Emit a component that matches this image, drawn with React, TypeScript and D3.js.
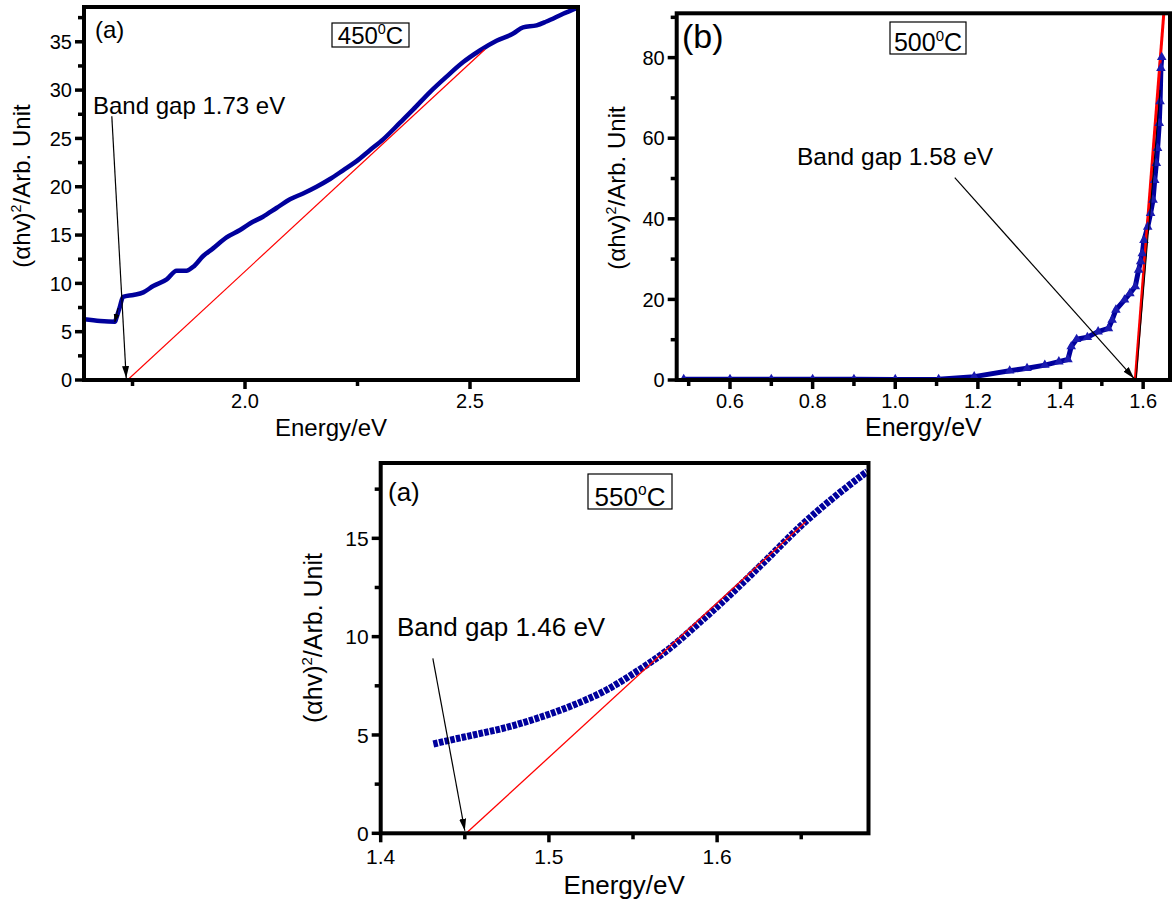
import React from 'react';
import * as d3 from 'd3';

// ---------- Panel 1 (450 °C) ----------
const p1Energy = [1.642, 1.678, 1.711, 1.714, 1.722, 1.729, 1.752, 1.774, 1.796, 1.826, 1.848, 1.870, 1.885, 1.907, 1.929, 1.959, 1.989, 2.011, 2.040, 2.070, 2.100, 2.129, 2.159, 2.189, 2.218, 2.248, 2.278, 2.307, 2.344, 2.374, 2.411, 2.448, 2.485, 2.522, 2.559, 2.596, 2.618, 2.648, 2.670, 2.707, 2.740];
const p1Value = [6.28, 6.1, 6.03, 6.4, 7.6, 8.6, 8.8, 9.07, 9.72, 10.41, 11.31, 11.31, 11.72, 12.83, 13.62, 14.76, 15.52, 16.2, 16.9, 17.8, 18.7, 19.3, 20.0, 20.8, 21.7, 22.65, 23.8, 24.9, 26.6, 28.0, 29.8, 31.4, 32.9, 34.1, 35.1, 35.85, 36.5, 36.7, 37.1, 37.9, 38.55];
const p1FitE = [1.739, 2.533];
const p1FitV = [0, 34.2];
const p1ArrowE = [1.704, 1.736];
const p1ArrowV = [27.3, 0.2];
const p1SmallArrowE = [1.718, 1.7107];
const p1SmallArrowV = [7.45, 6.0];
const p1XTicks = [2.0, 2.5];
const p1XMinor = [1.75, 2.25];
const p1YTicks = [0, 5, 10, 15, 20, 25, 30, 35];
const p1YMinor = [2.5, 7.5, 12.5, 17.5, 22.5, 27.5, 32.5, 37.5];

// ---------- Panel 2 (500 °C) ----------
const p2Energy = [0.488, 0.6, 0.7, 0.8, 0.9, 1.0, 1.105, 1.191, 1.277, 1.319, 1.362, 1.396, 1.418, 1.426, 1.439, 1.465, 1.491, 1.516, 1.525, 1.534, 1.555, 1.568, 1.581, 1.589, 1.594, 1.598, 1.602, 1.611, 1.618, 1.624, 1.628, 1.632, 1.635, 1.639, 1.641, 1.643, 1.645];
const p2Value = [0.2, 0.2, 0.2, 0.2, 0.2, 0.15, 0.2, 0.83, 2.3, 2.9, 3.7, 4.55, 5.1, 8.3, 10.1, 10.6, 12.0, 12.8, 14.9, 17.4, 19.9, 21.5, 23.2, 27.3, 29.4, 31.4, 34.7, 38.0, 41.4, 44.7, 49.6, 53.8, 57.5, 63.7, 69.1, 77.4, 80.1];
const p2FitE = [1.581, 1.650];
const p2FitV = [0, 91];
const p2BlackE = [1.583, 1.641];
const p2BlackV = [0, 72];
const p2ArrowE = [1.144, 1.578];
const p2ArrowV = [50.2, 0.4];
const p2XTicks = [0.6, 0.8, 1.0, 1.2, 1.4, 1.6];
const p2XMinor = [0.5, 0.7, 0.9, 1.1, 1.3, 1.5];
const p2YTicks = [0, 20, 40, 60, 80];
const p2YMinor = [10, 30, 50, 70, 90];

// ---------- Panel 3 (550 °C) ----------
const p3Energy = [1.4313, 1.4413, 1.4551, 1.475, 1.4948, 1.5146, 1.5345, 1.5504, 1.5702, 1.59, 1.6099, 1.6298, 1.6496, 1.6694, 1.6893];
const p3Value = [4.54, 4.74, 5.0, 5.39, 5.9, 6.52, 7.3, 8.13, 9.3, 10.75, 12.3, 13.95, 15.62, 17.08, 18.4];
const p3FitE = [1.4508, 1.6526];
const p3FitV = [0, 15.84];
const p3ArrowE = [1.431, 1.450];
const p3ArrowV = [8.9, 0.13];
const p3XTicks = [1.4, 1.5, 1.6];
const p3XMinor = [1.45, 1.55, 1.65];
const p3YTicks = [0, 5, 10, 15];
const p3YMinor = [2.5, 7.5, 12.5, 17.5];

const FONT = "'Liberation Sans', Arial, Helvetica, sans-serif";
const NAVY = '#00009c';

type Frame = { l: number; r: number; t: number; b: number };

function Axes(props: {
  frame: Frame;
  x: d3.ScaleLinear<number, number>;
  y: d3.ScaleLinear<number, number>;
  xTicks: number[];
  xMinor: number[];
  yTicks: number[];
  yMinor: number[];
  xFmt: (n: number) => string;
  tickFont: number;
  xLabelDy: number;
}) {
  const { frame, x, y, xTicks, xMinor, yTicks, yMinor, xFmt, tickFont, xLabelDy } = props;
  return (
    <g>
      <rect x={frame.l} y={frame.t} width={frame.r - frame.l} height={frame.b - frame.t} fill="none" stroke="#000" strokeWidth={4} />
      {xTicks.map((v) => (
        <g key={'xt' + v}>
          <line x1={x(v)} x2={x(v)} y1={frame.b} y2={frame.b + 9} stroke="#000" strokeWidth={3.5} />
          <text x={x(v)} y={frame.b + xLabelDy} textAnchor="middle" fontSize={tickFont} fontFamily={FONT}>{xFmt(v)}</text>
        </g>
      ))}
      {xMinor.filter((v) => x(v) > frame.l && x(v) < frame.r).map((v) => (
        <line key={'xm' + v} x1={x(v)} x2={x(v)} y1={frame.b} y2={frame.b + 6} stroke="#000" strokeWidth={3.5} />
      ))}
      {yTicks.map((v) => (
        <g key={'yt' + v}>
          <line x1={frame.l - 9} x2={frame.l} y1={y(v)} y2={y(v)} stroke="#000" strokeWidth={3.5} />
          <text x={frame.l - 12} y={y(v)} dy="0.36em" textAnchor="end" fontSize={tickFont} fontFamily={FONT}>{String(v)}</text>
        </g>
      ))}
      {yMinor.filter((v) => y(v) > frame.t && y(v) < frame.b).map((v) => (
        <line key={'ym' + v} x1={frame.l - 6} x2={frame.l} y1={y(v)} y2={y(v)} stroke="#000" strokeWidth={3.5} />
      ))}
    </g>
  );
}

function YTitle({ cx, cy, size }: { cx: number; cy: number; size: number }) {
  return (
    <text transform={`translate(${cx + size * 0.35},${cy}) rotate(-90)`} textAnchor="middle" fontSize={size} fontFamily={FONT}>
      (αhv)<tspan fontSize={size * 0.6} dy={-size * 0.38}>2</tspan><tspan dy={size * 0.38}>/Arb. Unit</tspan>
    </text>
  );
}

function TempBox(props: { x: number; y: number; w: number; h: number; num: string; sup: string; size: number }) {
  const { x, y, w, h, num, sup, size } = props;
  return (
    <g>
      <rect x={x} y={y} width={w} height={h} fill="#fff" stroke="#000" strokeWidth={1.2} />
      <text x={x + w / 2} y={y + h - 3} textAnchor="middle" fontSize={size} fontFamily={FONT}>
        {num}<tspan fontSize={size * 0.6} dy={-size * 0.42}>{sup}</tspan><tspan dy={size * 0.42}>C</tspan>
      </text>
    </g>
  );
}

export default function App() {
  // Panel 1
  const f1: Frame = { l: 84, r: 578, t: 7, b: 380 };
  const x1 = d3.scaleLinear().domain([1.6422, 2.74]).range([f1.l, f1.r]);
  const y1 = d3.scaleLinear().domain([0, 38.6]).range([f1.b, f1.t]);
  // Panel 2
  const f2: Frame = { l: 676.7, r: 1170, t: 13.3, b: 380 };
  const x2 = d3.scaleLinear().domain([0.471, 1.665]).range([f2.l, f2.r]);
  const y2 = d3.scaleLinear().domain([0, 91]).range([f2.b, f2.t]);
  // Panel 3
  const f3: Frame = { l: 380.7, r: 868.5, t: 463, b: 833.3 };
  const x3 = d3.scaleLinear().domain([1.4, 1.69]).range([f3.l, f3.r]);
  const y3 = d3.scaleLinear().domain([0, 18.83]).range([f3.b, f3.t]);

  const line1 = d3.line<number>().x((_, i) => x1(p1Energy[i])).y((v) => y1(v)).curve(d3.curveMonotoneX)(p1Value) || '';
  const line2 = d3.line<number>().x((_, i) => x2(p2Energy[i])).y((v) => y2(v))(p2Value) || '';
  const line3 = d3.line<number>().x((_, i) => x3(p3Energy[i])).y((v) => y3(v)).curve(d3.curveMonotoneX)(p3Value) || '';
  const tri = d3.symbol().type(d3.symbolTriangle).size(40)() || '';

  const fmt1 = d3.format('.1f');

  return (
    <svg width={1176} height={903} style={{ position: 'absolute', left: 0, top: 0, background: '#fff' }} fontFamily={FONT}>
      <defs>
        <marker id="ah" viewBox="0 0 10 10" refX="10" refY="5" markerWidth="12" markerHeight="7" markerUnits="userSpaceOnUse" orient="auto" preserveAspectRatio="none">
          <path d="M0,0 L10,5 L0,10 z" fill="#000" />
        </marker>
        <marker id="ahs" viewBox="0 0 10 10" refX="10" refY="5" markerWidth="8" markerHeight="6" markerUnits="userSpaceOnUse" orient="auto" preserveAspectRatio="none">
          <path d="M0,0 L10,5 L0,10 z" fill="#000" />
        </marker>
        <clipPath id="c1"><rect x={f1.l} y={f1.t} width={f1.r - f1.l} height={f1.b - f1.t} /></clipPath>
        <clipPath id="c2"><rect x={f2.l} y={f2.t} width={f2.r - f2.l} height={f2.b - f2.t} /></clipPath>
        <clipPath id="c3"><rect x={f3.l} y={f3.t} width={f3.r - f3.l} height={f3.b - f3.t} /></clipPath>
      </defs>
      <rect x={0} y={0} width={1176} height={903} fill="#fff" />

      {/* Panel 1 */}
      <g>
        <g clipPath="url(#c1)">
          <path d={line1} fill="none" stroke={NAVY} strokeWidth={4.5} strokeLinejoin="round" />
          <line x1={x1(p1FitE[0])} y1={y1(p1FitV[0])} x2={x1(p1FitE[1])} y2={y1(p1FitV[1])} stroke="#ff0000" strokeWidth={1.2} />
        </g>
        <line x1={x1(p1ArrowE[0])} y1={y1(p1ArrowV[0])} x2={x1(p1ArrowE[1])} y2={y1(p1ArrowV[1])} stroke="#000" strokeWidth={1.2} markerEnd="url(#ah)" />
        <line x1={x1(p1SmallArrowE[0])} y1={y1(p1SmallArrowV[0])} x2={x1(p1SmallArrowE[1])} y2={y1(p1SmallArrowV[1])} stroke="#000" strokeWidth={1} markerEnd="url(#ahs)" />
        <Axes frame={f1} x={x1} y={y1} xTicks={p1XTicks} xMinor={p1XMinor} yTicks={p1YTicks} yMinor={p1YMinor} xFmt={fmt1} tickFont={20} xLabelDy={28} />
        <text x={95} y={37.5} fontSize={24} fontFamily={FONT}>(a)</text>
        <TempBox x={332} y={23} w={77} h={24} num="450" sup="0" size={24} />
        <text x={93} y={114} fontSize={24} fontFamily={FONT}>Band gap 1.73 eV</text>
        <text x={(f1.l + f1.r) / 2} y={436} textAnchor="middle" fontSize={24} fontFamily={FONT}>Energy/eV</text>
        <YTitle cx={22} cy={186} size={24} />
      </g>

      {/* Panel 2 */}
      <g>
        <g clipPath="url(#c2)">
          <path d={line2} fill="none" stroke={NAVY} strokeWidth={5} strokeLinejoin="round" />
          <line x1={x2(p2FitE[0])} y1={y2(p2FitV[0])} x2={x2(p2FitE[1])} y2={y2(p2FitV[1])} stroke="#ff0000" strokeWidth={3} />
          {p2Value.map((v, i) => (
            <path key={'t' + i} d={tri} transform={`translate(${x2(p2Energy[i])},${y2(v)})`} fill="#1a1ab0" />
          ))}
          <line x1={x2(p2BlackE[0])} y1={y2(p2BlackV[0])} x2={x2(p2BlackE[1])} y2={y2(p2BlackV[1])} stroke="#000" strokeWidth={1} />
        </g>
        <line x1={x2(p2ArrowE[0])} y1={y2(p2ArrowV[0])} x2={x2(p2ArrowE[1])} y2={y2(p2ArrowV[1])} stroke="#000" strokeWidth={1.2} markerEnd="url(#ah)" />
        <Axes frame={f2} x={x2} y={y2} xTicks={p2XTicks} xMinor={p2XMinor} yTicks={p2YTicks} yMinor={p2YMinor} xFmt={fmt1} tickFont={20} xLabelDy={28} />
        <text x={682} y={48} fontSize={34} fontFamily={FONT}>(b)</text>
        <TempBox x={890} y={22} w={76} h={32} num="500" sup="0" size={25} />
        <text x={797} y={165} fontSize={24.5} fontFamily={FONT}>Band gap 1.58 eV</text>
        <text x={(f2.l + f2.r) / 2} y={436} textAnchor="middle" fontSize={25} fontFamily={FONT}>Energy/eV</text>
        <YTitle cx={617} cy={188} size={24} />
      </g>

      {/* Panel 3 */}
      <g>
        <g clipPath="url(#c3)">
          <path d={line3} fill="none" stroke={NAVY} strokeWidth={7} strokeDasharray="4.5 1.3" />
          <line x1={x3(p3FitE[0])} y1={y3(p3FitV[0])} x2={x3(p3FitE[1])} y2={y3(p3FitV[1])} stroke="#ff0000" strokeWidth={1.3} />
        </g>
        <line x1={x3(p3ArrowE[0])} y1={y3(p3ArrowV[0])} x2={x3(p3ArrowE[1])} y2={y3(p3ArrowV[1])} stroke="#000" strokeWidth={1.2} markerEnd="url(#ah)" />
        <Axes frame={f3} x={x3} y={y3} xTicks={p3XTicks} xMinor={p3XMinor} yTicks={p3YTicks} yMinor={p3YMinor} xFmt={fmt1} tickFont={21} xLabelDy={31} />
        <text x={388} y={501} fontSize={26} fontFamily={FONT}>(a)</text>
        <TempBox x={588} y={474} w={84} h={35} num="550" sup="o" size={26} />
        <text x={397} y={636} fontSize={26} fontFamily={FONT}>Band gap 1.46 eV</text>
        <text x={(f3.l + f3.r) / 2 - 0.5} y={894} textAnchor="middle" fontSize={26} fontFamily={FONT}>Energy/eV</text>
        <YTitle cx={313} cy={638} size={25} />
      </g>
    </svg>
  );
}
